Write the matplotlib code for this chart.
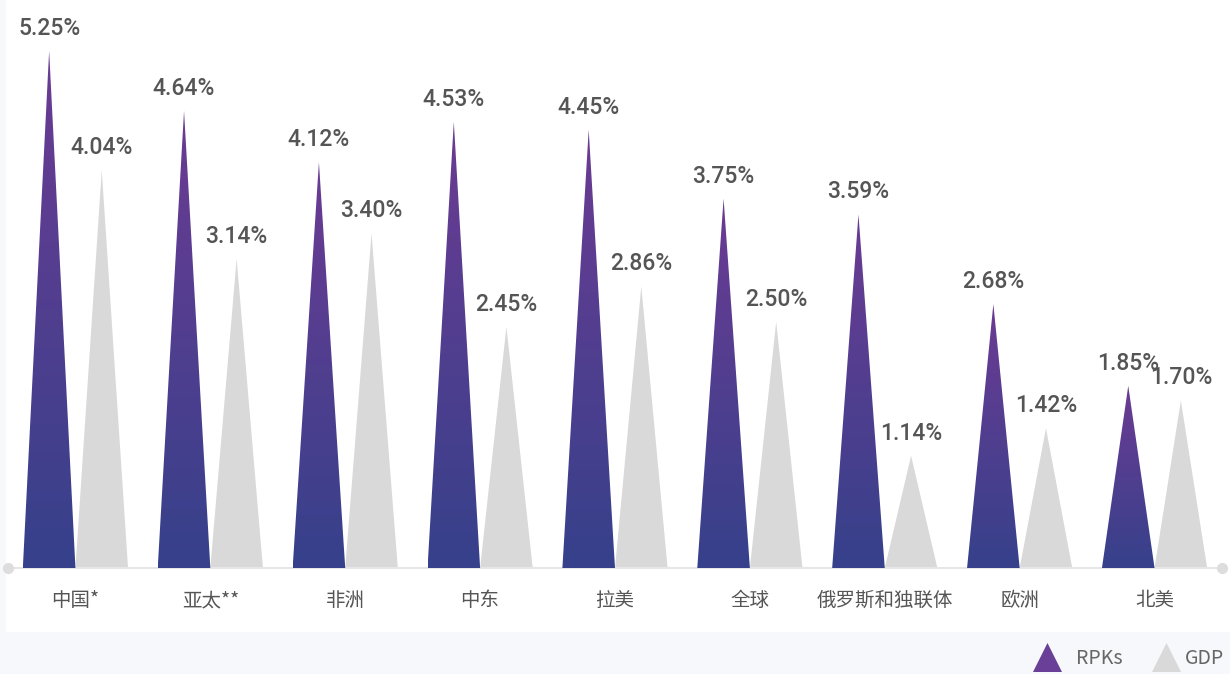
import numpy as np
import matplotlib.pyplot as plt
from matplotlib.patches import Polygon, Rectangle
from matplotlib.colors import LinearSegmentedColormap

plt.rcParams['font.family'] = ['Noto Sans CJK SC', 'DejaVu Sans']

regions = ["中国*", "亚太**", "非洲", "中东", "拉美", "全球", "俄罗斯和独联体", "欧洲", "北美"]
rpks = [5.25, 4.64, 4.12, 4.53, 4.45, 3.75, 3.59, 2.68, 1.85]
gdp = [4.04, 3.14, 3.40, 2.45, 2.86, 2.50, 1.14, 1.42, 1.70]

bar_w = 0.39
off = 0.195
purple_grad = LinearSegmentedColormap.from_list("rpk", ["#36418b", "#6c3b93"])
gray = "#d9d9d9"
txt = "#555555"
num_font = ['Roboto', 'DejaVu Sans']


def triangle(ax, xc, h, color=None, cmap=None):
    pts = [(xc - bar_w / 2, 0), (xc + bar_w / 2, 0), (xc, h)]
    if cmap is None:
        ax.add_patch(Polygon(pts, closed=True, facecolor=color, edgecolor="none"))
        return
    poly = Polygon(pts, closed=True, facecolor="none", edgecolor="none")
    ax.add_patch(poly)
    grad = np.linspace(0, 1, 256).reshape(-1, 1)
    im = ax.imshow(grad, extent=(xc - bar_w / 2, xc + bar_w / 2, 0, h), origin="lower",
                   cmap=cmap, aspect="auto", interpolation="bicubic", zorder=2)
    im.set_clip_path(poly)


fig = plt.figure(figsize=(12.3, 6.74), dpi=100)
# faint background with white card
fig.patches.append(Rectangle((0, 0), 1, 1, transform=fig.transFigure,
                             facecolor="#f6f8fb", edgecolor="none", zorder=-10))
fig.patches.append(Rectangle((6 / 1230, 42 / 674), 1, 1, transform=fig.transFigure,
                             facecolor="white", edgecolor="none", zorder=-9))

ax = fig.add_axes([8 / 1230, 106 / 674, 1214 / 1230, 568 / 674])
ax.set_xlim(-0.5, len(regions) - 0.5)
ax.set_ylim(0, 568 / 98.5)
ax.axis("off")

for i in range(len(regions)):
    triangle(ax, i - off, rpks[i], cmap=purple_grad)
    triangle(ax, i + off, gdp[i], color=gray)
    ax.annotate(f"{rpks[i]:.2f}%", (i - off, rpks[i]), xytext=(0, 8), textcoords="offset points",
                ha="center", va="bottom", fontsize=16.5, color=txt, family=num_font,
                weight="medium")
    ax.annotate(f"{gdp[i]:.2f}%", (i + off, gdp[i]), xytext=(0, 8), textcoords="offset points",
                ha="center", va="bottom", fontsize=16.5, color=txt, family=num_font,
                weight="medium")
    ax.text(i, -0.33, regions[i], ha="center", va="center", fontsize=14, color=txt,
            clip_on=False)

# axis line with end dots
ax.plot([-0.5, len(regions) - 0.5], [0, 0], color="#e6e6e6", lw=1.5, zorder=1, clip_on=False)
ax.plot([-0.5, len(regions) - 0.5], [0, 0], "o", color="#dddddd", ms=7, zorder=1, clip_on=False)

# legend
lax = fig.add_axes([0, 0, 1, 1], facecolor="none")
lax.set_xlim(0, 1230)
lax.set_ylim(674, 0)
lax.axis("off")
lax.add_patch(Polygon([(1033, 672), (1062, 672), (1047.5, 643)], closed=True,
                      facecolor="#6a3f98", edgecolor="none"))
lax.add_patch(Polygon([(1152, 672), (1181, 672), (1166.5, 643)], closed=True,
                      facecolor=gray, edgecolor="none"))
lax.text(1076, 659, "RPKs", ha="left", va="center", fontsize=14, color="#666666")
lax.text(1185, 659, "GDP", ha="left", va="center", fontsize=14, color="#666666")

fig.savefig("out.png", dpi=100)
